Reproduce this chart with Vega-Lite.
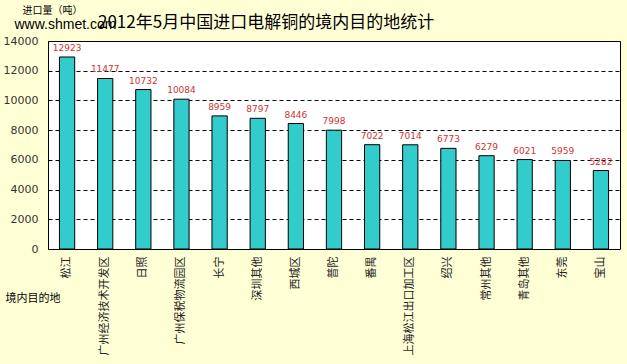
{
  "$schema": "https://vega.github.io/schema/vega-lite/v6.json",
  "autosize": {"type": "none"},
  "width": 572,
  "height": 208,
  "padding": {"left": 48, "top": 41, "right": 7, "bottom": 115},
  "background": "#FFFFD6",
  "config": {
    "view": {"fill": "#FFFFFF", "stroke": "#000000", "strokeWidth": 1},
    "font": "Noto Sans CJK SC",
    "axisY": {
      "values": [0, 2000, 4000, 6000, 8000, 10000, 12000, 14000],
      "format": "d", "labelOverlap": false,
      "titleAngle": 0, "titleX": -26, "titleY": -28, "titleAlign": "left",
      "titleBaseline": "alphabetic", "titleFontSize": 10, "titleFontWeight": "normal", "titleColor": "#000000",
      "labelFont": "DejaVu Sans", "labelFontSize": 11, "labelColor": "#333333", "labelPadding": 10,
      "ticks": false, "domain": false,
      "grid": true, "gridColor": "#000000", "gridDash": [4, 3], "gridOpacity": 1, "gridWidth": 1
    }
  },
  "title": {
    "text": "2012年5月中国进口电解铜的境内目的地统计",
    "anchor": "start",
    "frame": "group",
    "dx": 50,
    "offset": -27,
    "fontSize": 17,
    "fontWeight": "normal",
    "font": "Noto Sans CJK SC",
    "color": "#000000"
  },
  "data": {
    "values": [
      {"place": "松江", "value": 12923},
      {"place": "广州经济技术开发区", "value": 11477},
      {"place": "日照", "value": 10732},
      {"place": "广州保税物流园区", "value": 10084},
      {"place": "长宁", "value": 8959},
      {"place": "深圳其他", "value": 8797},
      {"place": "西城区", "value": 8446},
      {"place": "普陀", "value": 7998},
      {"place": "番禺", "value": 7022},
      {"place": "上海松江出口加工区", "value": 7014},
      {"place": "绍兴", "value": 6773},
      {"place": "常州其他", "value": 6279},
      {"place": "青岛其他", "value": 6021},
      {"place": "东莞", "value": 5959},
      {"place": "宝山", "value": 5282}
    ]
  },
  "resolve": {"axis": {"x": "independent"}},
  "layer": [
    {
      "mark": {"type": "bar", "fill": "#33CCCC", "stroke": "#000000", "strokeWidth": 1},
      "encoding": {
        "x": {
          "field": "place", "type": "nominal", "sort": null,
          "scale": {"paddingInner": 0.6, "paddingOuter": 0.3},
          "axis": {
            "title": "境内目的地", "titleX": -43, "titleY": 52, "titleAlign": "left",
            "titleBaseline": "alphabetic", "titleFontSize": 11, "titleFontWeight": "normal", "titleColor": "#000000",
            "labelAngle": -90, "labelFontSize": 11, "labelColor": "#222222", "labelPadding": 7,
            "ticks": false, "domain": false, "labelLimit": 200
          }
        },
        "y": {
          "field": "value", "type": "quantitative",
          "scale": {"domain": [0, 14000], "nice": false},
          "axis": {"title": "进口量（吨）", "values": [0, 2000, 4000, 6000, 8000, 10000, 12000, 14000]}
        }
      }
    },
    {
      "mark": {"type": "text", "color": "#CC3333", "fontSize": 9, "font": "DejaVu Sans", "dy": -4, "baseline": "bottom"},
      "encoding": {
        "x": {
          "field": "place", "type": "nominal", "sort": null,
          "axis": {
            "orient": "top", "title": "www.shmet.com", "titleX": -34, "titleY": -13, "titleAlign": "left",
            "titleBaseline": "alphabetic", "titleFontSize": 14, "titleFontWeight": "normal", "titleColor": "#000000",
            "titleFont": "Liberation Sans",
            "labels": false, "ticks": false, "domain": false, "grid": false
          }
        },
        "y": {
          "field": "value", "type": "quantitative",
          "axis": {"title": "进口量（吨）", "values": [0, 2000, 4000, 6000, 8000, 10000, 12000, 14000]}
        },
        "text": {"field": "value", "type": "quantitative", "format": "d"}
      }
    }
  ]
}
